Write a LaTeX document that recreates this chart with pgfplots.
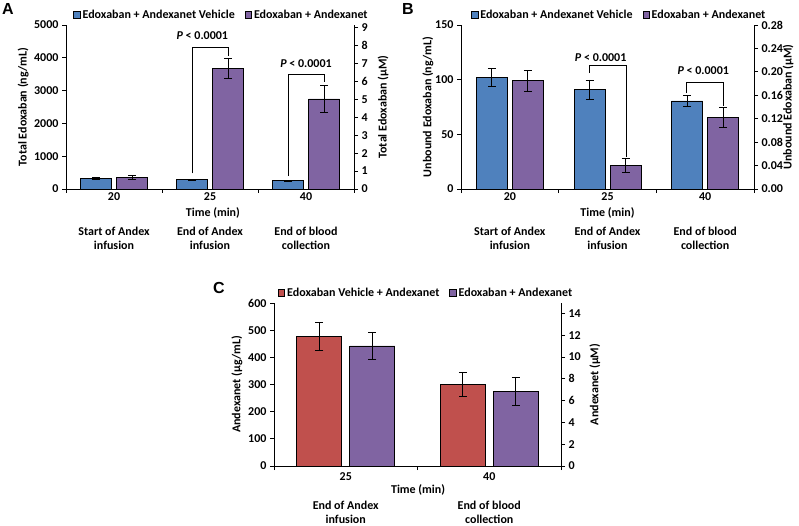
\documentclass[border=0pt]{standalone}
\usepackage{pgfplots}
\pgfplotsset{compat=1.18}
\usepackage{fontspec}
\setmainfont{Carlito}
\newfontfamily\panelfont{Liberation Sans}
\definecolor{cblue}{RGB}{79,129,189}
\definecolor{cpurple}{RGB}{128,100,162}
\definecolor{cred}{RGB}{192,80,77}
\newcommand{\lblfont}{\bfseries\fontsize{12}{14}\selectfont}
\newcommand{\legfont}{\bfseries\fontsize{12}{14}\selectfont}
\newcommand{\descfont}{\bfseries\fontsize{12}{14.5}\selectfont}
\pgfplotsset{
  base/.style={
    scale only axis,
    clip=false,
    /pgf/number format/assume math mode=true,
    /pgf/number format/1000 sep={},
    scaled y ticks=false,
    tick label style={font=\lblfont},
    label style={font=\lblfont},
    tick align=outside,
    major tick length=4pt,
    axis line style={black, line width=0.8pt},
    every tick/.style={black, line width=0.8pt},
    ymin=0,
  },
  mainax/.style={base,
    axis x line*=bottom, axis y line*=left,
    extra x tick style={major tick length=0pt},
    legend style={draw=none, fill=none, font=\legfont, legend columns=2, anchor=center,
      /tikz/every even column/.append style={column sep=8pt}},
    legend cell align=left,
  },
  rightax/.style={base, axis x line=none, axis y line*=right},
  sq/.style={legend image code/.code={\draw[##1] (0pt,-3.2pt) rectangle (6.4pt,3.2pt);}},
  eb/.style={error bars/.cd, y dir=both, y explicit,
    error bar style={black, line width=0.8pt},
    error mark options={rotate=90, black, line width=0.8pt, mark size=4pt}},
}
\begin{document}
\begin{tikzpicture}
\path[use as bounding box] (0,0) rectangle (799pt,-526pt);

% ---------------- Panel A ----------------
\begin{axis}[mainax, at={(66pt,-189pt)}, anchor=south west, width=288pt, height=164pt,
  xmin=-0.5, xmax=2.5, ymax=5000, ytick={0,1000,...,5000},
  xtick={-0.5,0.5,1.5,2.5}, xticklabels={,,,},
  extra x ticks={0,1,2}, extra x tick labels={20,25,40},
  ybar=5pt, bar width=31pt,
  ylabel={Total Edoxaban (ng/mL)},
  ylabel style={at={(axis description cs:-0.149,0.5)}, anchor=center},
  legend style={at={(axis description cs:0.54,1.061)}},
]
\addplot[fill=cblue, draw=black, line width=0.8pt, sq, eb] coordinates {(0,330) +- (0,30) (1,284) +- (0,20) (2,253) +- (0,20)};
\addplot[fill=cpurple, draw=black, line width=0.8pt, sq, eb] coordinates {(0,362) +- (0,60) (1,3680) +- (0,305) (2,2745) +- (0,410)};
\legend{Edoxaban + Andexanet Vehicle, Edoxaban + Andexanet}
\draw[black, line width=0.8pt] (axis cs:0.8125,480) |- (axis cs:1.1875,4330) -- (axis cs:1.1875,4055);
\draw[black, line width=0.8pt] (axis cs:1.8125,396) |- (axis cs:2.1875,3506) -- (axis cs:2.1875,3262);
\node[font=\lblfont] at (axis cs:0.92,4665) {\textit{P} < 0.0001};
\node[font=\lblfont] at (axis cs:2.0,3811) {\textit{P} < 0.0001};
\node[font=\lblfont] at (axis description cs:0.51,-0.148) {Time (min)};
\node[font=\descfont, align=center] at (axis description cs:0.1667,-0.30) {Start of Andex\\infusion};
\node[font=\descfont, align=center] at (axis description cs:0.5,-0.30) {End of Andex\\infusion};
\node[font=\descfont, align=center] at (axis description cs:0.8333,-0.30) {End of blood\\collection};
\end{axis}
\begin{axis}[rightax, at={(66pt,-189pt)}, anchor=south west, width=288pt, height=164pt,
  xmin=-0.5, xmax=2.5, ymax=9.15, ytick={0,1,...,9},
  ylabel={Total Edoxaban (µM)},
  ylabel style={at={(axis description cs:1.101,0.5)}, anchor=center},
]
\end{axis}

% ---------------- Panel B ----------------
\begin{axis}[mainax, at={(461pt,-189pt)}, anchor=south west, width=293pt, height=164pt,
  xmin=-0.5, xmax=2.5, ymax=150, ytick={0,50,100,150},
  xtick={-0.5,0.5,1.5,2.5}, xticklabels={,,,},
  extra x ticks={0,1,2}, extra x tick labels={20,25,40},
  ybar=5pt, bar width=31pt,
  ylabel={Unbound Edoxaban (ng/mL)},
  ylabel style={at={(axis description cs:-0.113,0.5)}, anchor=center},
  legend style={at={(axis description cs:0.54,1.061)}},
]
\addplot[fill=cblue, draw=black, line width=0.8pt, sq, eb] coordinates {(0,102) +- (0,8.5) (1,91) +- (0,8.7) (2,80.5) +- (0,4.7)};
\addplot[fill=cpurple, draw=black, line width=0.8pt, sq, eb] coordinates {(0,99) +- (0,9.6) (1,21.3) +- (0,6.5) (2,65.2) +- (0,9.2)};
\legend{Edoxaban + Andexanet Vehicle, Edoxaban + Andexanet}
\draw[black, line width=0.8pt] (axis cs:0.81,106) |- (axis cs:1.19,113.4) -- (axis cs:1.19,29.3);
\draw[black, line width=0.8pt] (axis cs:1.81,87.8) |- (axis cs:2.19,97.9) -- (axis cs:2.19,75.9);
\node[font=\lblfont] at (axis cs:0.93,119.8) {\textit{P} < 0.0001};
\node[font=\lblfont] at (axis cs:1.98,108) {\textit{P} < 0.0001};
\node[font=\lblfont] at (axis description cs:0.5,-0.148) {Time (min)};
\node[font=\descfont, align=center] at (axis description cs:0.1667,-0.30) {Start of Andex\\infusion};
\node[font=\descfont, align=center] at (axis description cs:0.5,-0.30) {End of Andex\\infusion};
\node[font=\descfont, align=center] at (axis description cs:0.8333,-0.30) {End of blood\\collection};
\end{axis}
\begin{axis}[rightax, at={(461pt,-189pt)}, anchor=south west, width=293pt, height=164pt,
  xmin=-0.5, xmax=2.5, ymax=0.28, ytick={0,0.04,...,0.28},
  yticklabel style={/pgf/number format/.cd, fixed, fixed zerofill, precision=2},
  ylabel={Unbound Edoxaban (µM)},
  ylabel style={at={(axis description cs:1.116,0.5)}, anchor=center},
]
\end{axis}

% ---------------- Panel C ----------------
\begin{axis}[mainax, at={(274pt,-466pt)}, anchor=south west, width=287pt, height=163pt,
  xmin=-0.5, xmax=1.5, ymax=600, ytick={0,100,...,600},
  xtick={-0.5,0.5,1.5}, xticklabels={,,},
  extra x ticks={0,1}, extra x tick labels={25,40},
  extra x tick style={major tick length=0pt, xticklabel style={yshift=-3pt}},
  ybar=8pt, bar width=45pt,
  ylabel={Andexanet (µg/mL)},
  ylabel style={at={(axis description cs:-0.129,0.5)}, anchor=center},
  legend style={at={(axis description cs:0.53,1.061)}},
]
\addplot[fill=cred, draw=black, line width=0.8pt, sq, eb] coordinates {(0,477) +- (0,53) (1,301) +- (0,43)};
\addplot[fill=cpurple, draw=black, line width=0.8pt, sq, eb] coordinates {(0,442) +- (0,48) (1,275) +- (0,53)};
\legend{Edoxaban Vehicle + Andexanet, Edoxaban + Andexanet}
\node[font=\lblfont] at (axis description cs:0.502,-0.149) {Time (min)};
\node[font=\descfont, align=center] at (axis description cs:0.25,-0.283) {End of Andex\\infusion};
\node[font=\descfont, align=center] at (axis description cs:0.75,-0.283) {End of blood\\collection};
\end{axis}
\begin{axis}[rightax, at={(274pt,-466pt)}, anchor=south west, width=287pt, height=163pt,
  xmin=-0.5, xmax=1.5, ymax=14.95, ytick={0,2,...,14},
  ylabel={Andexanet (µM)},
  ylabel style={at={(axis description cs:1.118,0.5)}, anchor=center},
]
\end{axis}

\node[font=\panelfont\bfseries\fontsize{16}{16}\selectfont] at (8pt,-9pt) {A};
\node[font=\panelfont\bfseries\fontsize{16}{16}\selectfont] at (408pt,-9pt) {B};
\node[font=\panelfont\bfseries\fontsize{16}{16}\selectfont] at (219pt,-288pt) {C};
\end{tikzpicture}
\end{document}
